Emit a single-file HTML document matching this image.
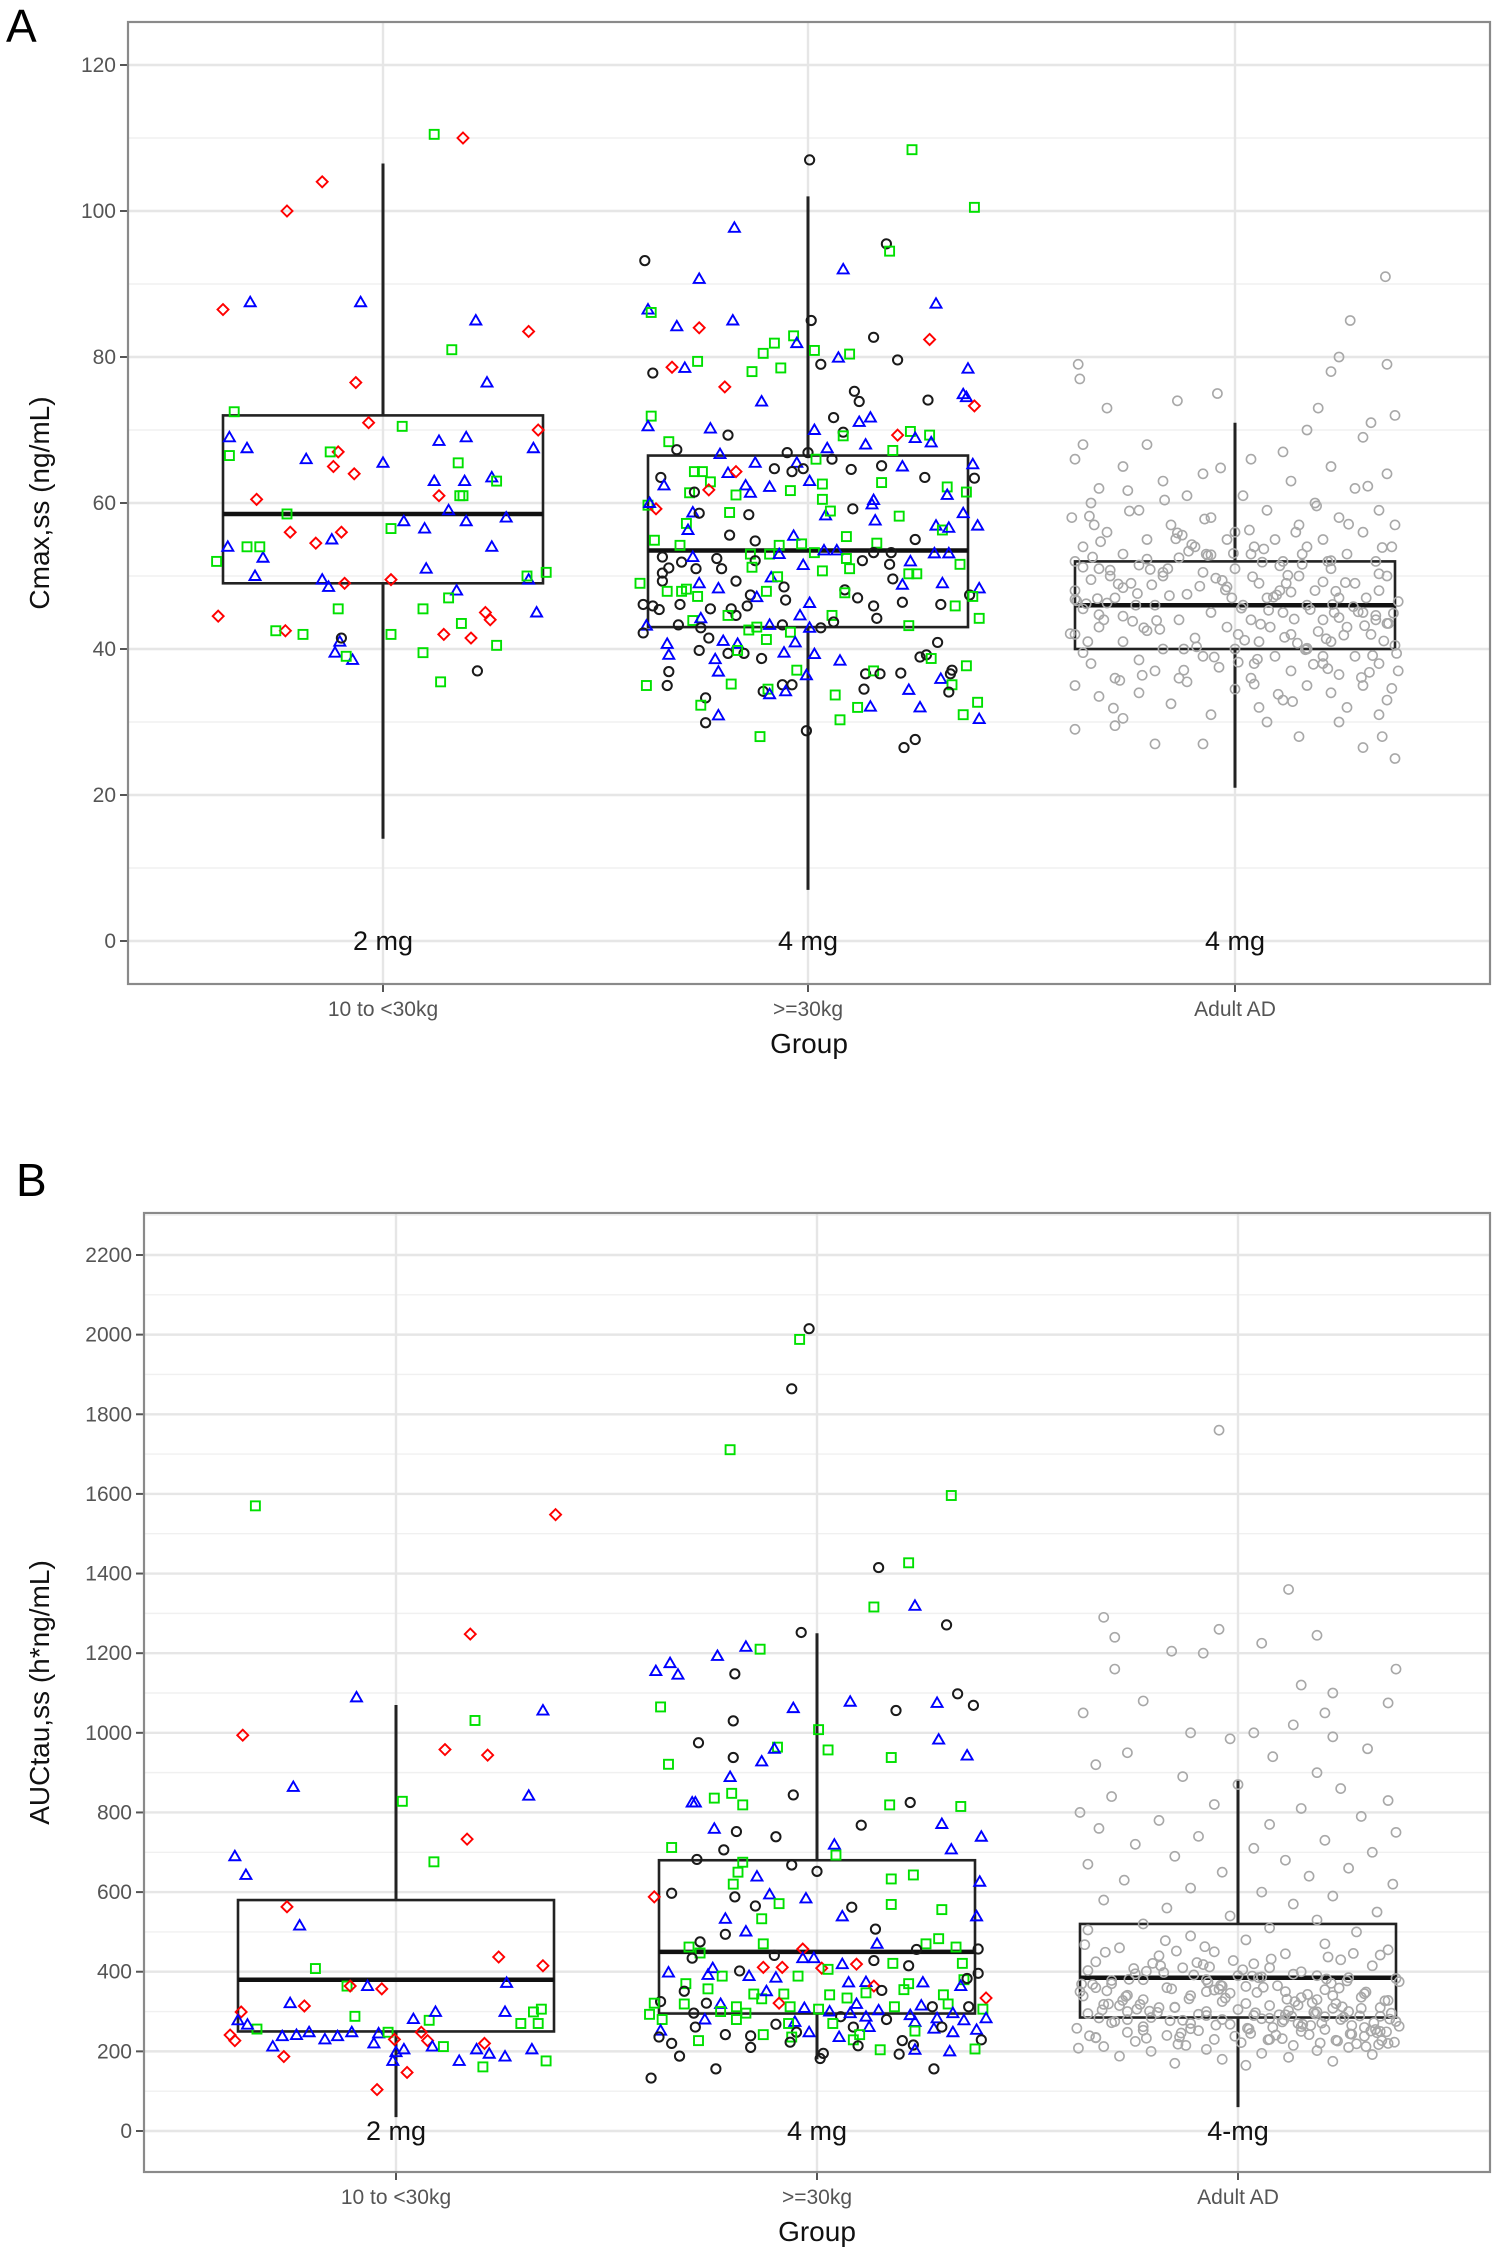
<!DOCTYPE html>
<html><head><meta charset="utf-8"><style>
html,body{margin:0;padding:0;background:#fff}
svg{display:block;font-family:"Liberation Sans","DejaVu Sans",sans-serif}
</style></head><body>
<svg id="chart" width="1499" height="2259" viewBox="0 0 1499 2259" xmlns="http://www.w3.org/2000/svg"></svg>
<script>
// ---------- DATA ----------
const categories = ["10 to <30kg", ">=30kg", "Adult AD"];
const doseLabelsA = ["2 mg", "4 mg", "4 mg"];
const doseLabelsB = ["2 mg", "4 mg", "4-mg"];
const ticksA = [0,20,40,60,80,100,120];
const ticksB = [0,200,400,600,800,1000,1200,1400,1600,1800,2000,2200];
// box stats: [whiskerLow, q1, median, q3, whiskerHigh]
const boxA = [[14,49,58.5,72,106.5],[7,43,53.5,66.5,102],[21,40,46,52,71]];
const boxB = [[35,250,380,580,1070],[180,295,450,680,1250],[60,285,385,520,880]];
// points: [value, jitter(-1..1 of box half width), shape]
const ptsA1 = [[86.5,-1,'d'],[100,-.6,'d'],[104,-.38,'d'],[110,.5,'d'],[76.5,-.17,'d'],[71,-.09,'d'],[67,-.28,'d'],[65,-.31,'d'],[64,-.18,'d'],[60.5,-.79,'d'],[56,-.58,'d'],[54.5,-.42,'d'],[56,-.26,'d'],[44.5,-1.03,'d'],[42.5,-.61,'d'],[49,-.24,'d'],[49.5,.05,'d'],[61,.35,'d'],[83.5,.91,'d'],[70,.97,'d'],[45,.64,'d'],[44,.67,'d'],[41.5,.55,'d'],[42,.38,'d'],
[87.5,-.83,'t'],[87.5,-.14,'t'],[69,-.96,'t'],[67.5,-.85,'t'],[66,-.48,'t'],[65.5,0,'t'],[54,-.97,'t'],[52.5,-.75,'t'],[50,-.8,'t'],[49.5,-.38,'t'],[48.5,-.34,'t'],[55,-.32,'t'],[38.5,-.19,'t'],[39.5,-.3,'t'],[57.5,.13,'t'],[56.5,.26,'t'],[51,.27,'t'],[68.5,.35,'t'],[63,.32,'t'],[69,.52,'t'],[63,.51,'t'],[57.5,.52,'t'],[85,.58,'t'],[76.5,.65,'t'],[63.5,.68,'t'],[54,.68,'t'],[58,.77,'t'],[49.5,.91,'t'],[67.5,.94,'t'],[45,.96,'t'],[41,-.27,'t'],[59,.41,'t'],[48,.46,'t'],
[110.5,.32,'s'],[72.5,-.93,'s'],[66.5,-.96,'s'],[52,-1.04,'s'],[54,-.85,'s'],[54,-.77,'s'],[58.5,-.6,'s'],[42.5,-.67,'s'],[42,-.5,'s'],[67,-.33,'s'],[45.5,-.28,'s'],[39,-.23,'s'],[56.5,.05,'s'],[70.5,.12,'s'],[42,.05,'s'],[45.5,.25,'s'],[39.5,.25,'s'],[81,.43,'s'],[47,.41,'s'],[61,.5,'s'],[65.5,.47,'s'],[61,.48,'s'],[43.5,.49,'s'],[35.5,.36,'s'],[40.5,.71,'s'],[63,.71,'s'],[50.5,1.02,'s'],[50,.9,'s'],
[41.5,-.26,'c'],[37,.59,'c']];
const ptsA2 = [[107,.01,'c'],[108.4,.65,'s'],[100.5,1.04,'s'],[97.7,-.46,'t'],[95.5,.49,'c'],[94.5,.51,'s'],[93.2,-1.02,'c'],[92,.22,'t'],[90.7,-.68,'t'],[87.3,.8,'t'],[86.5,-1,'t'],[86.1,-.98,'s'],[84.2,-.82,'t'],[84,-.68,'d'],[85,-.47,'t'],[85,.02,'c'],[82.9,-.09,'s'],[81.9,-.07,'t'],[81.9,-.21,'s'],[80.5,-.28,'s'],[82.7,.41,'c'],[82.4,.76,'d'],[80.9,.04,'s'],[79.9,.19,'t'],[80.4,.26,'s'],[79.6,.56,'c'],[79,.08,'c'],[78,-.35,'s'],[78.5,-.17,'s'],[77.8,-.97,'c'],[78.6,-.85,'d'],[78.5,-.77,'t'],[79.4,-.69,'s'],[78.4,1,'t'],[75.9,-.52,'d'],[75.3,.29,'c'],[73.9,.32,'c'],[73.9,-.29,'t'],[74.1,.75,'c'],[74.9,.97,'t'],[74.5,.99,'t'],[73.3,1.04,'d'],[71.9,-.98,'s'],[70.5,-1,'t'],[71.7,.16,'c'],[71.1,.32,'t'],[71.7,.39,'t'],[70.2,-.61,'t'],[69.3,-.5,'c'],[70,.04,'t'],[69.7,.22,'c'],[69.2,.22,'s'],[69.3,.56,'d'],[69.8,.64,'s'],[68.9,.67,'t'],[69.3,.76,'s'],[68.3,.77,'t'],[68.4,-.87,'s'],[67.3,-.82,'c'],[68,.36,'t'],[67.2,.53,'s'],[66.7,-.55,'t'],[66.9,-.13,'c'],[66.9,0,'c'],[67.5,.12,'t'],[66,.05,'s'],[66,.15,'c'],[65.5,-.33,'t'],[65.5,-.07,'t'],[65.3,1.03,'t'],[63.4,1.04,'c'],[64.7,-.21,'c'],[64.3,-.1,'c'],[64.7,-.03,'c'],[64.1,-.5,'t'],[64.3,-.45,'d'],[64.3,-.71,'s'],[64.3,-.66,'s'],[64.6,.27,'c'],[65.1,.46,'c'],[65,.59,'t'],[63.5,-.92,'c'],[62.4,-.9,'t'],[63.5,.73,'c'],[62.9,-.61,'s'],[61.8,-.62,'d'],[63,.01,'t'],[62.6,.09,'s'],[62.4,-.39,'t'],[61.4,-.36,'t'],[62.2,-.24,'t'],[61.7,-.11,'s'],[61.1,-.45,'s'],[61.4,-.74,'s'],[61.5,-.71,'c'],[62.8,.46,'s'],[62.2,.87,'s'],[61.1,.87,'t'],[61.5,.99,'s'],[60.5,.09,'s'],[60.4,.41,'t'],[59.8,.4,'t'],[59.7,-1,'s'],[59.2,-.95,'d'],[60,-.99,'t'],[59.2,.28,'c'],[58.7,-.72,'t'],[58.6,-.68,'c'],[58.7,-.49,'s'],[58.4,-.37,'c'],[58.3,.11,'t'],[58.9,.14,'s'],[58.2,.57,'s'],[57.6,.42,'t'],[58.6,.97,'t'],[57.2,-.76,'s'],[56.3,-.75,'t'],[56.9,.8,'t'],[56.3,.84,'s'],[56.6,.88,'t'],[56.9,1.06,'t'],[55.6,-.49,'c'],[55.5,-.09,'t'],[55.4,.24,'s'],[54.8,-.33,'c'],[55,.67,'c'],[54.9,-.96,'s'],[54.2,-.8,'s'],[54.2,-.18,'s'],[54.4,-.04,'s'],[54.5,.43,'s'],[52.6,-.91,'c'],[51.9,-.79,'c'],[52.6,-.72,'t'],[51,-.7,'c'],[52.4,-.57,'c'],[51,-.54,'c'],[53,-.36,'s'],[52.1,-.33,'c'],[51.2,-.35,'s'],[53,-.24,'s'],[53,-.18,'t'],[51.5,-.03,'t'],[53.2,.04,'s'],[53.5,.1,'t'],[53.5,.18,'t'],[52.4,.24,'s'],[51,.26,'s'],[52.1,.34,'c'],[53.2,.41,'c'],[53.2,.52,'c'],[51.6,.51,'c'],[52,.64,'t'],[50.3,.63,'s'],[50.3,.68,'s'],[53.1,.79,'t'],[53.1,.88,'t'],[51.6,.95,'s'],[50.7,.09,'s'],[50.4,-.91,'c'],[51.1,-.87,'c'],[49.3,-.91,'c'],[49,-1.05,'s'],[49,-.68,'t'],[49.3,-.45,'c'],[49.8,-.23,'t'],[49.9,-.19,'s'],[48.5,-.15,'c'],[49.6,.53,'c'],[48.8,.59,'t'],[49,.84,'t'],[48.3,1.07,'t'],[47.9,-.88,'s'],[47.9,-.79,'s'],[48.2,-.76,'s'],[47.2,-.69,'s'],[48.3,-.56,'t'],[47.9,-.26,'s'],[48.1,.23,'c'],[47.7,.23,'s'],[47.4,-.36,'c'],[47.1,-.32,'t'],[46.7,-.14,'c'],[47,.31,'c'],[46.4,.59,'c'],[47.4,1.01,'c'],[47.2,1.03,'s'],[46.1,-1.03,'c'],[45.9,-.97,'c'],[45.4,-.93,'c'],[46.1,-.8,'c'],[45.5,-.61,'c'],[45.5,-.48,'c'],[45.9,-.38,'c'],[46.3,.01,'t'],[45.9,.41,'c'],[46.1,.83,'c'],[45.9,.92,'s'],[44.6,-.05,'t'],[44.6,-.45,'c'],[44.6,-.5,'s'],[44.6,.15,'s'],[44.2,.43,'c'],[44.2,1.07,'s'],[43.9,-.72,'s'],[44.2,-.67,'t'],[43.7,.16,'c'],[43.3,-.81,'c'],[42.9,-.67,'c'],[43.3,-.24,'t'],[43.3,-.16,'c'],[43.2,-1.01,'t'],[42.2,-1.03,'c'],[43,-.32,'s'],[42.6,-.37,'s'],[42.3,-.11,'s'],[42.9,.01,'t'],[42.9,.08,'c'],[43.2,.63,'s'],[41.3,-.26,'s'],[41.5,-.62,'c'],[40.9,-.08,'t'],[40.9,.81,'c'],[40.7,-.88,'t'],[41.1,-.53,'t'],[40.7,-.44,'t'],[39.8,-.68,'c'],[39.4,-.5,'c'],[39.4,-.4,'c'],[39.5,-.15,'t'],[39.3,.04,'t'],[39.2,-.87,'t'],[38.6,-.58,'t'],[38.7,-.29,'c'],[39.8,-.44,'s'],[38.4,.2,'t'],[38.9,.7,'c'],[39.2,.74,'c'],[38.7,.77,'s'],[36.9,-.56,'t'],[36.9,-.87,'c'],[37.1,-.07,'s'],[36.4,-.01,'t'],[36.6,.36,'c'],[37,.41,'s'],[36.6,.45,'c'],[36.7,.58,'c'],[35.9,.83,'t'],[37.1,.9,'c'],[36.6,.89,'c'],[37.7,.99,'s'],[35,-1.01,'s'],[35,-.88,'c'],[35.2,-.48,'s'],[35.1,-.16,'c'],[35.1,-.1,'c'],[34.2,-.28,'c'],[34.5,-.25,'s'],[33.8,-.24,'t'],[34.2,-.14,'t'],[34.5,.35,'c'],[34.4,.63,'t'],[35.1,.9,'s'],[34.1,.88,'c'],[33.7,.17,'s'],[33.3,-.64,'c'],[32.3,-.67,'s'],[32,.31,'s'],[32.1,.39,'t'],[32,.7,'t'],[32.7,1.06,'s'],[30.9,-.56,'t'],[29.9,-.64,'c'],[30.3,.2,'s'],[31,.97,'s'],[30.4,1.07,'t'],[28.8,-.01,'c'],[28,-.3,'s'],[26.5,.6,'c'],[27.6,.67,'c']];
const valsA3 = [91,85,80,79,79,77,78,75,74,73,73,72,71,70,69,68,68,67,66,66,65,65,64,64,63,63,62,62,61,61,60,60,59,59,59,58,58,58,57,57,57,56,56,56,55,55,55,54,54,54,54,53,53,53,52.5,52,52,52,51.5,51,51,51,50.5,50,50,50,49.5,49,49,49,48.5,48,48,48,47.5,47,47,47,46.5,46,46,46,45.5,45,45,45,44.5,44,44,44,43.5,43,43,43,42.5,42,42,42,41.5,41,41,41,40.5,40,40,40,39.5,39,39,39,38.5,38,38,38,37.5,37,37,37,36.5,36,36,35.5,35,35,35,34.5,34,34,33.5,33,33,32.5,32,32,31,31,30.5,30,30,29.5,29,28,28,27,27,26.5,25,55,53,49,47,45,43,41,50,52,46,44,48,42,56,40,38,54,51,47,44,57,36,39,53];
const jitA3 = [.94,.72,.65,-.98,.95,-.97,.6,-.11,-.36,-.8,.52,1,.85,.45,.8,-.95,-.55,.3,-1,.1,-.7,.6,-.2,.95,-.45,.35,.75,-.85,.05,-.3,-.9,.5,-.6,.2,.9,-1.02,-.15,.65,-.4,.4,1,-.8,0,.8,-.55,.25,.55,-.95,-.25,.45,.98,-.7,.1,.7,-.35,-1,.3,.88,-.6,0,.6,-.85,-.2,.4,.95,-.45,-.9,.15,.75,-.65,-.05,.5,-1,.9,-.3,.2,-.75,.65,1.02,-.5,.05,.45,-.95,-.15,.8,.3,-.7,.55,-.35,.1,.95,-.85,-.05,.7,-.55,.35,-1,.85,-.25,.15,.6,-.7,1,-.45,0,.45,-.95,.75,-.2,.25,-.6,.55,-.9,.9,-.1,.35,-.5,1.02,.65,-.75,.1,-.3,.8,-1,.45,0,-.6,.6,-.85,.3,.95,-.4,.15,.7,-.15,.9,-.7,.2,.65,-.75,-1,.4,.92,-.2,-.5,.8,1,-.05,.42,.32,-.02,.62,.22,-.92,-.78,.58,-.62,.88,.28,.02,.38,-.32,.12,.12,-.42,.82,-.82,-.88,-.35,.55,-.18];
const valsA3b = [58.2,44.1,49.7,36.8,52.3,41.2,47.9,55.6,39.4,50.8,45.3,42.7,53.9,48.1,37.9,46.6,51.4,43.8,57.1,40.3,
49.2,54.7,38.6,47.3,44.9,52.8,41.9,35.7,50.1,46.2,56.3,43.2,48.8,39.9,53.4,45.8,42.1,51.9,47.6,37.3,
55.1,44.6,49.4,40.8,46.9,52.1,38.2,50.5,43.5,57.8,41.6,48.4,45.1,53.1,36.4,47.1,51.2,42.4,54.3,39.1,
46.3,49.9,44.3,55.9,40.1,52.6,47.8,38.9,50.3,43.9,45.6,58.9,41.4,48.6,53.7,36.1,46.8,51.6,42.9,49.1,
33.8,60.4,62.3,31.9,35.2,59.6,64.8,34.6,61.7,32.8,37.1,45.4,48.9,43.4,50.9,46.1,52.9,41.1,47.4,44.7];
const jitA3b = [-.91,.37,-.12,.84,-.55,.06,.63,-.33,1.01,-.78,.21,-.47,.92,-.06,.49,-.99,.28,-.64,.71,-.24,
.55,-.84,.14,-.41,.99,-.17,.68,-.72,.33,-.93,.09,.81,-.52,.44,-.29,.74,-1.03,.17,-.61,.58,
-.37,.88,-.08,.39,-.86,.6,.02,-.45,.96,-.19,.31,-.7,.77,-.01,-.58,.24,-.95,.52,-.27,.86,
-.8,.11,.65,-.36,.45,-.89,.35,-.13,.9,-.49,.04,-.66,.57,-.22,.18,.79,-1.0,.42,-.57,.69,
.27,-.44,.83,-.76,.12,.51,-.09,.98,-.67,.36,-.32,.47,-.73,.16,-.53,.61,-.15,.93,.26,-.85];
const ptsB1 = [[1570,-.89,'s'],[1548,1.01,'d'],[1089,-.25,'t'],[994,-.97,'d'],[1248,.47,'d'],[1031,.5,'s'],[1056,.93,'t'],[958,.31,'d'],[944,.58,'d'],[864,-.65,'t'],[828,.04,'s'],[842,.84,'t'],[733,.45,'d'],[676,.24,'s'],[690,-1.02,'t'],[643,-.95,'t'],[563,-.69,'d'],[516,-.61,'t'],[437,.65,'d'],[415,.93,'d'],[408,-.51,'s'],[372,.7,'t'],[364,-.31,'s'],[364,-.18,'t'],[364,-.29,'d'],[357,-.09,'d'],[321,-.67,'t'],[314,-.58,'d'],[299,-.98,'d'],[278,-1,'t'],[256,-.88,'s'],[267,-.94,'t'],[227,-1.02,'d'],[241,-1.05,'d'],[288,-.26,'s'],[281,.11,'t'],[278,.21,'s'],[299,.25,'t'],[299,.69,'t'],[299,.87,'s'],[306,.92,'s'],[270,.9,'s'],[238,-.72,'t'],[241,-.63,'t'],[230,-.45,'t'],[238,-.37,'t'],[248,-.28,'t'],[245,-.11,'t'],[220,-.14,'t'],[248,-.05,'s'],[198,0,'t'],[230,-.01,'d'],[248,.16,'d'],[227,.2,'d'],[212,.23,'t'],[212,.3,'s'],[220,.56,'d'],[194,.59,'t'],[205,.51,'t'],[187,.69,'t'],[270,.79,'s'],[205,.86,'t'],[176,.95,'s'],[248,-.55,'t'],[187,-.71,'d'],[212,-.78,'t'],[205,.05,'t'],[176,-.02,'t'],[161,.55,'s'],[176,.4,'t'],[147,.07,'d'],[104,-.12,'d']];
const ptsB2 = [[2015,-.05,'c'],[1988,-.11,'s'],[1864,-.16,'c'],[1711,-.55,'s'],[1596,.85,'s'],[1415,.39,'c'],[1427,.58,'s'],[1316,.36,'s'],[1319,.62,'t'],[1271,.82,'c'],[1252,-.1,'c'],[1210,-.36,'s'],[1216,-.45,'t'],[1193,-.63,'t'],[1155,-1.02,'t'],[1175,-.93,'t'],[1146,-.88,'t'],[1148,-.52,'c'],[1098,.89,'c'],[1069,.99,'c'],[1065,-.99,'s'],[1062,-.15,'t'],[1078,.21,'t'],[1056,.5,'c'],[1075,.76,'t'],[1030,-.53,'c'],[1008,.01,'s'],[975,-.75,'c'],[983,.77,'t'],[957,.07,'s'],[964,-.25,'s'],[960,-.27,'t'],[938,-.53,'c'],[943,.95,'t'],[928,-.35,'t'],[921,-.94,'s'],[938,.47,'s'],[889,-.55,'t'],[825,-.77,'t'],[825,-.79,'t'],[836,-.65,'s'],[848,-.54,'s'],[819,-.47,'s'],[844,-.15,'c'],[819,.46,'s'],[825,.59,'c'],[815,.91,'s'],[759,-.65,'t'],[752,-.51,'c'],[739,-.26,'c'],[768,.28,'c'],[771,.79,'t'],[739,1.04,'t'],[712,-.92,'s'],[706,-.59,'c'],[719,.11,'t'],[693,.12,'s'],[707,.85,'t'],[682,-.76,'c'],[668,-.16,'c'],[652,0,'c'],[675,-.47,'s'],[650,-.5,'s'],[639,-.38,'t'],[633,.47,'s'],[643,.61,'s'],[626,1.03,'t'],[620,-.53,'s'],[588,-1.03,'d'],[597,-.92,'c'],[588,-.52,'c'],[594,-.3,'t'],[571,-.24,'s'],[584,-.07,'t'],[565,-.39,'c'],[562,.22,'c'],[539,.16,'t'],[569,.47,'s'],[556,.79,'s'],[539,1.01,'t'],[533,-.58,'t'],[533,-.35,'s'],[507,.37,'c'],[501,-.45,'t'],[494,-.58,'c'],[475,-.74,'c'],[462,-.81,'s'],[447,-.74,'s'],[470,-.34,'s'],[457,-.09,'d'],[470,.38,'t'],[470,.69,'s'],[483,.77,'s'],[456,.63,'c'],[462,.88,'s'],[457,1.02,'c'],[434,-.79,'c'],[441,-.27,'c'],[434,-.09,'t'],[434,-.02,'t'],[411,-.34,'d'],[411,-.22,'d'],[398,-.94,'t'],[392,-.69,'t'],[409,-.66,'t'],[402,-.49,'c'],[389,-.43,'t'],[389,-.6,'s'],[385,-.26,'t'],[389,-.12,'s'],[409,.03,'d'],[406,.07,'s'],[419,.16,'t'],[419,.25,'d'],[428,.36,'c'],[421,.48,'s'],[415,.58,'c'],[421,.92,'s'],[396,1.02,'c'],[370,-.83,'s'],[357,-.69,'s'],[351,-.84,'c'],[373,.2,'t'],[374,.31,'t'],[364,.36,'d'],[353,.41,'c'],[355,.55,'s'],[370,.58,'s'],[373,.67,'t'],[380,.93,'s'],[383,.95,'c'],[364,.91,'t'],[344,-.4,'s'],[332,-.35,'s'],[351,-.32,'t'],[344,-.21,'s'],[342,.08,'s'],[334,.19,'s'],[347,.31,'s'],[342,.8,'s'],[334,1.07,'d'],[325,-.99,'c'],[321,-1.03,'s'],[321,-.7,'c'],[319,-.84,'s'],[319,-.61,'t'],[321,-.24,'d'],[312,-.17,'s'],[309,-.08,'t'],[312,-.51,'s'],[319,.25,'t'],[303,.39,'t'],[312,.49,'s'],[312,.73,'c'],[315,.66,'t'],[319,.83,'s'],[312,.96,'c'],[306,1.05,'s'],[293,-1.06,'s'],[280,-.98,'s'],[296,-.78,'c'],[300,-.61,'s'],[296,-.45,'s'],[306,.01,'s'],[300,.08,'t'],[287,.15,'c'],[296,.21,'t'],[287,.31,'t'],[280,.44,'c'],[291,.59,'t'],[283,.76,'t'],[296,.86,'t'],[283,1.07,'t'],[280,-.71,'t'],[280,-.51,'s'],[268,-.26,'c'],[274,-.14,'t'],[270,-.18,'s'],[261,-.77,'c'],[270,.1,'s'],[261,.23,'c'],[261,.33,'t'],[274,.62,'t'],[257,.74,'t'],[261,.79,'c'],[248,.86,'t'],[254,1.01,'t'],[278,.93,'t'],[252,-.99,'t'],[248,-.05,'t'],[248,-.13,'c'],[242,-.58,'c'],[242,-.34,'s'],[239,-.42,'c'],[242,.27,'s'],[251,.62,'s'],[236,-.16,'s'],[236,-1,'c'],[236,.14,'t'],[229,1.04,'c'],[227,-.75,'s'],[220,-.92,'c'],[229,.23,'s'],[223,-.17,'c'],[227,.54,'c'],[216,.61,'c'],[214,.26,'c'],[210,-.42,'c'],[206,1,'s'],[204,.4,'s'],[204,.62,'t'],[193,.52,'c'],[200,.84,'t'],[188,-.87,'c'],[195,.04,'c'],[182,.02,'c'],[156,-.64,'c'],[156,.74,'c'],[133,-1.05,'c']];
const valsB3 = [1760,1360,1290,1260,1240,1245,1225,1205,1200,1160,1160,1120,1100,1080,1075,1050,1050,1020,1000,1000,990,985,960,950,940,920,900,890,870,860,840,830,820,810,800,790,780,770,760,750,740,730,720,710,700,690,680,670,660,650,640,630,620,610,600,590,580,570,560,550,540,530,520,510,505,500,490,480,470,460,455,450,445,440,430,425,420,415,410,400,395,390,385,380,375,370,365,360,355,350,348,345,340,335,330,328,325,320,318,315,310,308,305,300,298,295,292,290,288,285,282,280,278,275,272,270,268,265,262,260,258,255,252,250,248,245,242,240,238,235,232,230,228,225,222,220,218,215,212,210,205,202,200,195,192,188,185,180,175,170,165,330,310,290,350,270,390,410,300,280,360,320,260,340,380,250,300,310,280,350,230];
const jitB3 = [-.12,.32,-.85,-.12,-.78,.5,.15,-.42,-.22,-.78,1,.4,.6,-.6,.95,-.98,.55,.35,.1,-.3,.6,-.05,.82,-.7,.22,-.9,.5,-.35,0,.65,-.8,.95,-.15,.4,-1,.78,-.5,.2,-.88,1,-.25,.55,-.65,.1,.85,-.4,.3,-.95,.7,-.1,.45,-.72,.98,-.3,.15,.6,-.85,.35,-.45,.88,-.05,.5,-.6,.2,-.95,.75,-.3,.05,.55,-.75,.95,-.15,.3,-.5,.65,-.9,.1,.85,-.35,.4,-.65,0,.7,-.2,1.02,-.8,.25,-.45,.55,-1,.12,.8,-.3,.4,-.6,.95,-.1,.62,-.85,.2,-.4,.78,0,-.7,.48,-.95,.3,-.2,.9,-.55,.15,.65,-.35,1,-.8,.38,-.05,.72,-.6,.22,-1.02,.55,-.25,.9,-.7,.08,.45,-.45,.8,-.9,.28,-.15,.62,-.65,.02,.95,-.38,.35,-.85,.7,-.2,.5,-.55,.15,.85,-.75,.32,-.1,.6,-.4,.05,.5,-.5,.1,.3,-.3,.5,.2,.7,-.1,-.9,.05,.8,.6,-.6,.4,-.2,.9,-.7,-.2,.2];
const valsB3b = [352,268,418,296,233,385,312,452,247,338,279,403,221,366,289,478,258,327,306,394,
238,371,284,432,215,349,301,263,412,322,275,389,244,357,292,468,226,334,316,381,
251,423,287,208,361,298,442,266,343,319,377,236,405,281,253,331,463,219,368,294,
346,272,398,229,315,437,257,383,304,241,356,286,421,262,339,212,374,297,249,408,
325,277,446,234,363,308,392,255,328,283,415,223,354,271,378,302,246,336,428,265,
318,387,239,359,293,217,401,274,341,256,382,311,227,364,288,449,243,332,299,369];
const jitB3b = [-.83,.41,-.22,.97,-.58,.13,.66,-.39,.88,-.71,.29,-.95,.52,-.11,.77,-.46,.06,.93,-.64,.35,
-.02,.59,-.88,.21,-.33,.81,-.56,1.02,-.18,.47,-.78,.09,.71,-.42,.26,-.97,.63,-.08,.38,-.69,
.84,-.26,.55,-1.01,.16,-.51,.9,-.14,.44,-.82,.69,-.37,.03,.96,-.6,.31,-.21,.75,-.92,.49,
-.05,.86,-.47,.19,-.75,.57,-.3,1.0,-.86,.24,-.12,.67,-.54,.4,-.98,.81,-.19,.11,.94,-.66,
.36,-.43,.73,-.9,.05,.6,-.28,.87,-.73,.2,-.49,.99,-.15,.53,-.8,.32,-.36,.78,-.03,.46,
-.62,.15,-.94,.64,-.25,.89,-.58,.28,-.7,.07,.56,-.4,.91,-.1,.34,-.84,.72,-.31,.5,-.99];

// ---------- DRAW ----------
const NS = "http://www.w3.org/2000/svg";
const svg = document.getElementById('chart');
function mk(tag, attrs, parent){const e=document.createElementNS(NS,tag);for(const k in attrs)e.setAttribute(k,attrs[k]);(parent||svg).appendChild(e);return e;}
const COL={c:'#1a1a1a',t:'#0000ff',s:'#00e000',d:'#ff0000',g:'#a8a8a8'};

function drawPanel(P){
  const g=mk('g',{});
  
  
  const yS=v=>P.y0-(v-P.vmin)*(P.y0-P.yTop)/(P.vmax-P.vmin);
  const xC=i=>P.cx[i];
  for(let k=0;k<P.ticks.length;k++){
    const mv=P.ticks[k]+P.step/2;
    if(yS(mv)>P.top){const l=mk('line',{x1:P.left,x2:P.right,y1:yS(mv),y2:yS(mv),stroke:'#f0f0f0','stroke-width':1.4},g);
    }
  }
  P.ticks.forEach(t=>{
    const y=yS(t);
    const l=mk('line',{x1:P.left,x2:P.right,y1:y,y2:y,stroke:'#e6e6e6','stroke-width':2.4},g);
    
    const tk=mk('line',{x1:P.left-8,x2:P.left,y1:y,y2:y,stroke:'#555','stroke-width':2},g);
    
    const tx=mk('text',{x:P.left-12,y:y+7,'text-anchor':'end','font-size':21,fill:'#555'},g);
    tx.textContent=t;
    
  });
  categories.forEach((c,i)=>{
    const l=mk('line',{x1:xC(i),x2:xC(i),y1:P.top,y2:P.bottom,stroke:'#e6e6e6','stroke-width':2.4},g);
    
    const tk=mk('line',{x1:xC(i),x2:xC(i),y1:P.bottom,y2:P.bottom+8,stroke:'#555','stroke-width':2},g);
    
    const tx=mk('text',{x:xC(i),y:P.bottom+32,'text-anchor':'middle','font-size':21,fill:'#555'},g);
    tx.textContent=c;
    
  });
  P.box.forEach((b,i)=>{
    const x=xC(i),hw=P.hw,bg=mk('g',{},g);
    
    mk('line',{x1:x,x2:x,y1:yS(b[0]),y2:yS(b[1]),stroke:'#222','stroke-width':3},bg);
    mk('line',{x1:x,x2:x,y1:yS(b[3]),y2:yS(b[4]),stroke:'#222','stroke-width':3},bg);
    mk('rect',{x:x-hw,y:yS(b[3]),width:2*hw,height:yS(b[1])-yS(b[3]),fill:'none',stroke:'#222','stroke-width':2.6},bg);
    mk('line',{x1:x-hw,x2:x+hw,y1:yS(b[2]),y2:yS(b[2]),stroke:'#111','stroke-width':4.5},bg);
  });
  const pg=mk('g',{},g);
  
  function pt(v,j,s,i){
    const x=xC(i)+j*P.hw, y=yS(v), c=COL[s];
    let e;
    if(s==='c'||s==='g') e=mk('circle',{cx:x,cy:y,r:4.6,fill:'none',stroke:c,'stroke-width':s==='g'?1.6:2},pg);
    else if(s==='s') e=mk('rect',{x:x-4.5,y:y-4.5,width:9,height:9,fill:'none',stroke:c,'stroke-width':1.9},pg);
    else if(s==='t') e=mk('polygon',{points:`${x},${y-5.5} ${x+5.5},${y+4} ${x-5.5},${y+4}`,fill:'none',stroke:c,'stroke-width':1.9},pg);
    else e=mk('polygon',{points:`${x},${y-5.5} ${x+5.5},${y} ${x},${y+5.5} ${x-5.5},${y}`,fill:'none',stroke:c,'stroke-width':1.9},pg);
    
    
  }
  P.vals3.forEach((v,k)=>pt(v,P.jit3[k],'g',2));
  P.vals3b.forEach((v,k)=>pt(v,P.jit3b[k],'g',2));
  P.pts1.forEach(p=>pt(p[0],p[1],p[2],0));
  P.pts2.forEach(p=>pt(p[0],p[1],p[2],1));
  P.dose.forEach((d,i)=>{
    const tx=mk('text',{x:xC(i),y:yS(0)+9,'text-anchor':'middle','font-size':27,fill:'#111'},g);
    tx.textContent=d;
    
  });
  const fr=mk('rect',{x:P.left,y:P.top,width:P.right-P.left,height:P.bottom-P.top,fill:'none',stroke:'#8a8a8a','stroke-width':2.2},g);
  
  const xt=mk('text',{x:(P.left+P.right)/2,y:P.bottom+69,'text-anchor':'middle','font-size':28,fill:'#111'},g);
  xt.textContent='Group';
  const yt=mk('text',{x:0,y:0,'text-anchor':'middle','font-size':28,fill:'#111',transform:`translate(${P.ytx},${(P.top+P.bottom)/2}) rotate(-90)`},g);
  yt.textContent=P.ytitle;
  const pl=mk('text',{x:P.lx,y:P.ly,'font-size':46,fill:'#000'},g);
  pl.textContent=P.letter;
}

drawPanel({name:'panel-a-cmax',left:128,right:1490,top:22,bottom:984,y0:941,yTop:65,vmin:0,vmax:120,step:20,ticks:ticksA,
  cx:[383,808,1235],hw:160,box:boxA,pts1:ptsA1,pts2:ptsA2,vals3:valsA3,jit3:jitA3,vals3b:valsA3b,jit3b:jitA3b,dose:doseLabelsA,
  ytitle:'Cmax,ss (ng/mL)',ytx:49,letter:'A',lx:6,ly:42});
drawPanel({name:'panel-b-auctau',left:144,right:1490,top:1213,bottom:2172,y0:2131,yTop:1255,vmin:0,vmax:2200,step:200,ticks:ticksB,
  cx:[396,817,1238],hw:158,box:boxB,pts1:ptsB1,pts2:ptsB2,vals3:valsB3,jit3:jitB3,vals3b:valsB3b,jit3b:jitB3b,dose:doseLabelsB,
  ytitle:'AUCtau,ss (h*ng/mL)',ytx:49,letter:'B',lx:16,ly:1196});
</script>
</body></html>
